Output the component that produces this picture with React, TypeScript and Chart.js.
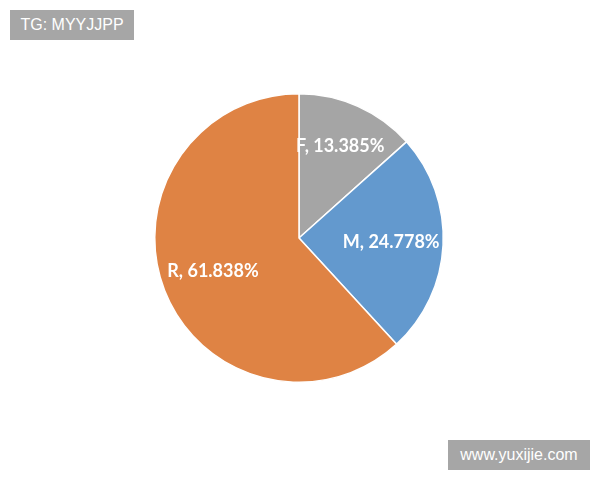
import React, { useEffect, useRef } from "react";
import { Chart, registerables } from "chart.js";

Chart.register(...registerables);

const categories = ["F", "M", "R"];
const values = [13.385, 24.778, 61.838];
const colors = ["#A5A5A5", "#6399CE", "#DF8344"];

const labelPlugin = {
  id: "sliceLabels",
  afterDatasetsDraw(chart: any) {
    const { ctx } = chart;
    const meta = chart.getDatasetMeta(0);
    ctx.save();
    ctx.fillStyle = "#ffffff";
    ctx.font = "bold 18px Lato, 'Open Sans', sans-serif";
    ctx.textAlign = "center";
    ctx.textBaseline = "middle";
    meta.data.forEach((arc: any, i: number) => {
      const p = arc.getProps(["x", "y", "startAngle", "endAngle", "outerRadius"], true);
      const mid = (p.startAngle + p.endAngle) / 2;
      const r = p.outerRadius * (i === 0 ? 0.7 : 0.64);
      const x = p.x + Math.cos(mid) * r;
      const y = p.y + Math.sin(mid) * r;
      ctx.fillText(`${categories[i]}, ${values[i].toFixed(3)}%`, x, y);
    });
    ctx.restore();
  },
};

export default function App() {
  const ref = useRef<HTMLCanvasElement>(null);
  useEffect(() => {
    const chart = new Chart(ref.current!, {
      type: "pie",
      data: {
        labels: categories,
        datasets: [
          {
            data: values,
            backgroundColor: colors,
            borderColor: "#ffffff",
            borderWidth: 1.5,
          },
        ],
      },
      options: {
        responsive: false,
        animation: false,
        layout: { padding: { top: 93, bottom: 97, left: 154, right: 156 } },
        plugins: {
          legend: { display: false },
          tooltip: { enabled: false },
        },
      },
      plugins: [labelPlugin],
    });
    return () => chart.destroy();
  }, []);
  const box: React.CSSProperties = {
    position: "absolute",
    height: 30,
    background: "#A6A6A6",
    color: "#fff",
    font: "16px 'Liberation Sans', Arial, sans-serif",
    lineHeight: "30px",
    textAlign: "center",
  };
  return (
    <div style={{ position: "absolute", left: 0, top: 0, width: 600, height: 480, background: "#fff" }}>
      <canvas ref={ref} width={600} height={480} />
      <div style={{ ...box, left: 10, top: 10, width: 124 }}>TG: MYYJJPP</div>
      <div style={{ ...box, left: 448, top: 440, width: 142 }}>www.yuxijie.com</div>
    </div>
  );
}
